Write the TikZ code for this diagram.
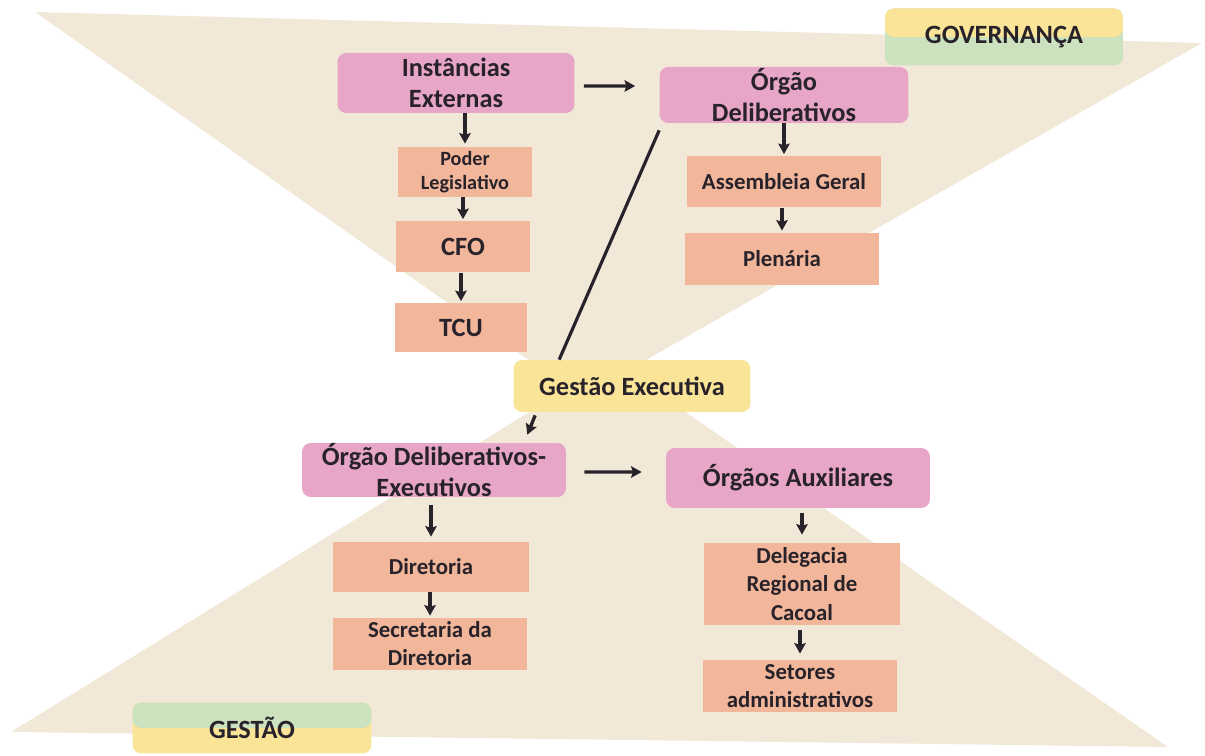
\documentclass[tikz,border=0pt]{standalone}
\usepackage{fontspec}
\setmainfont{Carlito}
\usepackage{tikz}
\usetikzlibrary{arrows.meta, positioning, calc}
\definecolor{mydark}{RGB}{40,34,42}
\definecolor{mybeige}{RGB}{242,232,216}
\definecolor{mypink}{RGB}{231,165,200}
\definecolor{mysalmon}{RGB}{242,183,154}
\definecolor{myyellow}{RGB}{249,228,152}
\definecolor{mygreen}{RGB}{204,226,190}
\tikzset{
  pinkbox/.style={rectangle, fill=mypink, rounded corners=5pt,
    align=center, inner sep=0pt, text=mydark,
    font=\fontsize{15}{18}\selectfont\bfseries},
  salmonbox/.style={rectangle, fill=mysalmon,
    align=center, inner sep=0pt, text=mydark,
    font=\fontsize{13}{16}\selectfont\bfseries},
  yellowbox/.style={rectangle, fill=myyellow, rounded corners=5pt,
    align=center, inner sep=0pt, text=mydark,
    font=\fontsize{15}{17}\selectfont\bfseries},
  topyellow/.style={rectangle, fill=mygreen, rounded corners=5pt,
    align=center, inner sep=0pt, text=mydark,
    font=\fontsize{15}{17}\selectfont\bfseries,
    path picture={\fill[myyellow] (path picture bounding box.north west)
      rectangle (path picture bounding box.east);}},
  topgreen/.style={rectangle, fill=myyellow, rounded corners=5pt,
    align=center, inner sep=0pt, text=mydark,
    font=\fontsize{15}{17}\selectfont\bfseries,
    path picture={\fill[mygreen] (path picture bounding box.north west)
      rectangle (path picture bounding box.east);}},
  arrow/.style={-{Stealth[length=6pt,width=6.5pt,inset=1pt]}, line width=1.9pt, color=mydark},
  line/.style={line width=1.8pt, color=mydark}
}

\begin{document}
\begin{tikzpicture}[x=0.02cm, y=-0.02cm]
  \useasboundingbox (0,0) rectangle (1205,756);

  % Background hourglass
  \fill[mybeige] (35,12) -- (1202,43) -- (581,397) -- cycle;
  \fill[mybeige] (612,361) -- (11,732) -- (1168,747) -- cycle;

  % Governance side
  \node[topyellow, minimum width=4.76cm, minimum height=1.14cm] (gov) at (1004,37) {GOVERNANÇA};
  \node[pinkbox, minimum width=4.74cm, minimum height=1.2cm] (ie) at (456,83) {Instâncias\\Externas};
  \node[salmonbox, minimum width=2.68cm, minimum height=1.0cm,
    font=\fontsize{11.5}{14}\selectfont\bfseries] (pl) at (465,172) {Poder\\Legislativo};
  \node[salmonbox, minimum width=2.68cm, minimum height=1.02cm,
    font=\fontsize{15}{17}\selectfont\bfseries] (cfo) at (463,247) {CFO};
  \node[salmonbox, minimum width=2.66cm, minimum height=0.98cm,
    font=\fontsize{15}{17}\selectfont\bfseries] (tcu) at (461,328) {TCU};
  \node[pinkbox, minimum width=4.98cm, minimum height=1.12cm] (od) at (784,95) {Órgão\\Deliberativos};
  \node[salmonbox, minimum width=3.9cm, minimum height=1.02cm] (ag) at (784,182) {Assembleia Geral};
  \node[salmonbox, minimum width=3.88cm, minimum height=1.04cm] (pln) at (782,259) {Plenária};

  % Executive management
  \node[yellowbox, minimum width=4.74cm, minimum height=1.04cm] (ge) at (632,386) {Gestão Executiva};

  % Management side
  \node[pinkbox, minimum width=5.28cm, minimum height=1.0cm] (ode) at (434,470) {Órgão Deliberativos-\\Executivos};
  \node[salmonbox, minimum width=3.94cm, minimum height=1.0cm] (dir) at (431,567) {Diretoria};
  \node[salmonbox, minimum width=3.9cm, minimum height=1.04cm] (sec) at (430,644) {Secretaria da\\Diretoria};
  \node[pinkbox, minimum width=5.28cm, minimum height=1.2cm] (aux) at (798,478) {Órgãos Auxiliares};
  \node[salmonbox, minimum width=3.92cm, minimum height=1.64cm] (del) at (802,584) {Delegacia\\Regional de\\Cacoal};
  \node[salmonbox, minimum width=3.9cm, minimum height=1.04cm] (set) at (800,686) {Setores\\administrativos};
  \node[topgreen, minimum width=4.78cm, minimum height=1.02cm] (gst) at (252,728) {GESTÃO};

  % Connectors
  \draw[arrow] ([xshift=0.18cm,yshift=-0.06cm]ie.east) -- ([xshift=-0.48cm,yshift=0.18cm]od.west);
  \draw[arrow] (pl.north |- ie.south) -- ([yshift=0.06cm]pl.north);
  \draw[arrow] (cfo.north |- pl.south) -- ([yshift=0.04cm]cfo.north);
  \draw[arrow] (tcu.north |- cfo.south) -- ([yshift=0.04cm]tcu.north);
  \draw[arrow] (od.south) -- ([yshift=0.04cm]ag.north);
  \draw[arrow] (pln.north |- ag.south) -- ([yshift=0.04cm]pln.north);
  \draw[line] ([yshift=-0.14cm]od.south west) -- ([xshift=0.92cm]ge.north west);
  \draw[arrow] ([xshift=0.44cm,yshift=-0.06cm]ge.south west) -- ([xshift=-0.78cm,yshift=0.16cm]ode.north east);
  \draw[arrow] ([xshift=0.36cm,yshift=-0.04cm]ode.east) -- ([xshift=-0.48cm,yshift=0.12cm]aux.west);
  \draw[arrow] ([yshift=-0.16cm]dir.north |- ode.south) -- ([yshift=0.1cm]dir.north);
  \draw[arrow] (sec.north |- dir.south) -- ([yshift=0.04cm]sec.north);
  \draw[arrow] ([yshift=-0.1cm]del.north |- aux.south) -- ([yshift=0.16cm]del.north);
  \draw[arrow] ([yshift=-0.1cm]set.north |- del.south) -- ([yshift=0.12cm]set.north);
\end{tikzpicture}
\end{document}
